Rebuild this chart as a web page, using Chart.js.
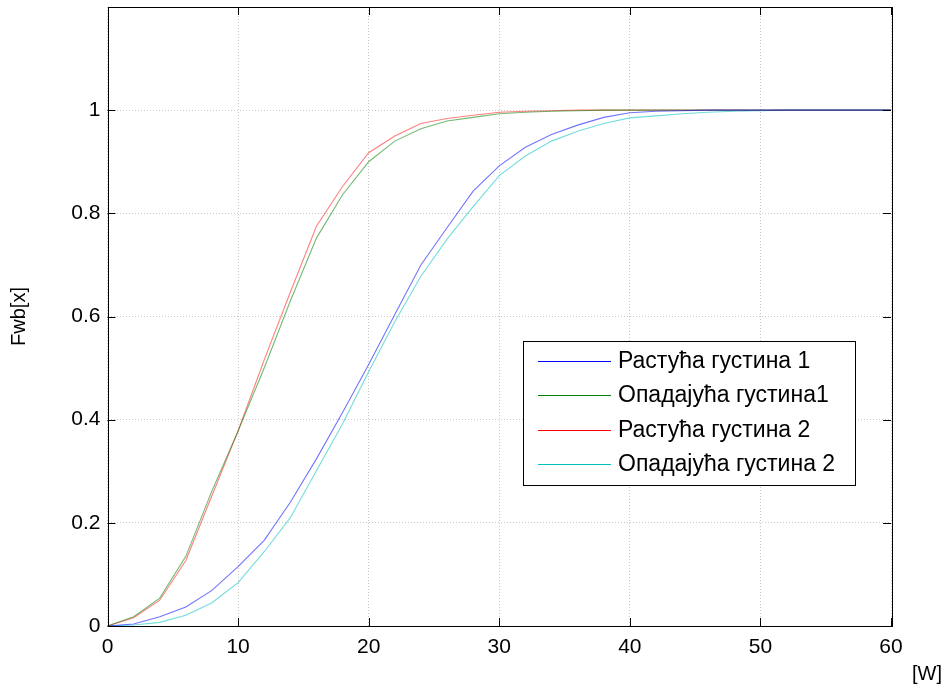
<!DOCTYPE html>
<html>
<head>
<meta charset="utf-8">
<script src="https://cdn.jsdelivr.net/npm/chart.js@4.4.1/dist/chart.umd.min.js"></script>
<style>
  html, body { margin: 0; padding: 0; background: #fff; }
  #wrap { width: 949px; height: 695px; position: relative; }
</style>
</head>
<body>
<div id="wrap"><canvas id="c" width="949" height="695"></canvas></div>
<script>
// ---- data ----
const xValues = [0,2,4,6,8,10,12,14,16,18,20,22,24,26,28,30,32,34,36,38,40,42,44,46,48,50,52,54,56,58,60];
const seriesLabels = ['Растућа густина 1', 'Опадајућа густина1', 'Растућа густина 2', 'Опадајућа густина 2'];
const rastuca1 = [0,0.004,0.018,0.037,0.069,0.115,0.166,0.24,0.324,0.414,0.507,0.604,0.70,0.772,0.843,0.892,0.928,0.953,0.971,0.986,0.995,0.998,0.999,1,1,1,1,1,1,1,1];
const opadajuca1 = [0,0.018,0.054,0.135,0.262,0.378,0.50,0.630,0.752,0.836,0.900,0.940,0.964,0.979,0.986,0.993,0.996,0.998,0.999,1,1,1,1,1,1,1,1,1,1,1,1];
const rastuca2 = [0,0.016,0.050,0.127,0.253,0.378,0.516,0.647,0.775,0.852,0.9175,0.950,0.974,0.984,0.990,0.996,0.998,0.999,1,1,1,1,1,1,1,1,1,1,1,1,1];
const opadajuca2 = [0,0.002,0.007,0.021,0.045,0.084,0.144,0.21,0.301,0.392,0.493,0.59,0.678,0.75,0.813,0.873,0.911,0.940,0.959,0.974,0.985,0.989,0.993,0.996,0.998,0.999,1,1,1,1,1];
const xTicks = [0,10,20,30,40,50,60];
const yTicks = [0,0.2,0.4,0.6,0.8,1];
const xTitle = '[W]';
const yTitle = 'Fwb[x]';

const lineColors = ['#0000ff', '#008000', '#ff0000', '#00bfbf'];
const plotColors = ['rgba(0,0,255,0.55)', 'rgba(0,128,0,0.55)', 'rgba(255,0,0,0.5)', 'rgba(0,191,191,0.55)'];
const allSeries = [rastuca1, opadajuca1, rastuca2, opadajuca2];

const FONT = '"Liberation Sans", Arial, Helvetica, sans-serif';

const datasets = allSeries.map((s, i) => ({
  label: seriesLabels[i],
  data: s.map((v, k) => ({ x: xValues[k], y: v })),
  borderColor: plotColors[i],
  backgroundColor: plotColors[i],
  borderWidth: 1.1,
  pointRadius: 0,
  fill: false,
  tension: 0
}));

const decor = {
  id: 'decor',
  afterDraw(chart) {
    const ctx = chart.ctx;
    const a = chart.chartArea;
    const xs = chart.scales.x, ys = chart.scales.y;
    ctx.save();
    // box
    ctx.strokeStyle = '#000';
    ctx.lineWidth = 1;
    ctx.strokeRect(Math.round(a.left) + 0.5, Math.round(a.top) + 0.5, Math.round(a.right - a.left), Math.round(a.bottom - a.top));
    // inner ticks
    const tl = 8;
    ctx.beginPath();
    xTicks.forEach(v => {
      const px = Math.round(xs.getPixelForValue(v)) + 0.5;
      ctx.moveTo(px, a.bottom); ctx.lineTo(px, a.bottom - tl);
      ctx.moveTo(px, a.top); ctx.lineTo(px, a.top + tl);
    });
    yTicks.forEach(v => {
      const py = Math.round(ys.getPixelForValue(v)) + 0.5;
      ctx.moveTo(a.left, py); ctx.lineTo(a.left + tl, py);
      ctx.moveTo(a.right, py); ctx.lineTo(a.right - tl, py);
    });
    ctx.stroke();
    // axis titles
    ctx.fillStyle = '#000';
    ctx.font = '20px ' + FONT;
    ctx.textAlign = 'center';
    ctx.textBaseline = 'middle';
    ctx.fillText(xTitle, 927, 674);
    ctx.translate(19, (a.top + a.bottom) / 2);
    ctx.rotate(-Math.PI / 2);
    ctx.fillText(yTitle, 0, 0);
    ctx.restore();

    // legend
    ctx.save();
    const bx = 523, by = 341, bw = 332, bh = 144;
    ctx.fillStyle = '#fff';
    ctx.fillRect(bx, by, bw, bh);
    ctx.strokeStyle = '#000';
    ctx.lineWidth = 1;
    ctx.strokeRect(bx + 0.5, by + 0.5, bw, bh);
    const rows = [361, 395, 429.5, 463.5];
    ctx.font = '23px ' + FONT;
    ctx.textAlign = 'left';
    ctx.textBaseline = 'middle';
    chart.data.datasets.forEach((d, i) => {
      const y = rows[i];
      ctx.strokeStyle = lineColors[i];
      ctx.lineWidth = 1;
      ctx.beginPath();
      ctx.moveTo(538, Math.round(y) + 0.5);
      ctx.lineTo(611, Math.round(y) + 0.5);
      ctx.stroke();
      ctx.fillStyle = '#000';
      ctx.fillText(d.label, 618, y + 1);
    });
    ctx.restore();
  }
};

new Chart(document.getElementById('c'), {
  type: 'line',
  data: { datasets },
  options: {
    responsive: false,
    animation: false,
    devicePixelRatio: 1,
    layout: { padding: { left: 0, right: 58, top: 7, bottom: 0 } },
    plugins: { legend: { display: false }, tooltip: { enabled: false }, title: { display: false } },
    scales: {
      x: {
        type: 'linear', min: 0, max: 60,
        afterFit: s => { s.height = 69; s.paddingLeft = 0; s.paddingRight = 0; },
        afterBuildTicks: s => { s.ticks = xTicks.map(v => ({ value: v })); },
        ticks: { color: '#000', font: { family: FONT, size: 21 }, padding: 9, maxRotation: 0, autoSkip: false,
                 callback: v => String(+(+v).toFixed(2)) },
        grid: { drawTicks: false, color: 'rgba(120,120,120,0.4)', lineWidth: 1 },
        border: { display: false, dash: [1, 2] }
      },
      y: {
        type: 'linear', min: 0, max: 1.2,
        afterFit: s => { s.width = 107.5; s.paddingTop = 0; s.paddingBottom = 0; },
        afterBuildTicks: s => { s.ticks = yTicks.map(v => ({ value: v })); },
        ticks: { color: '#000', font: { family: FONT, size: 21 }, padding: 7, autoSkip: false,
                 callback: v => String(+(+v).toFixed(2)) },
        grid: { drawTicks: false, color: 'rgba(120,120,120,0.4)', lineWidth: 1 },
        border: { display: false, dash: [1, 2] }
      }
    }
  },
  plugins: [decor]
});
</script>
</body>
</html>
